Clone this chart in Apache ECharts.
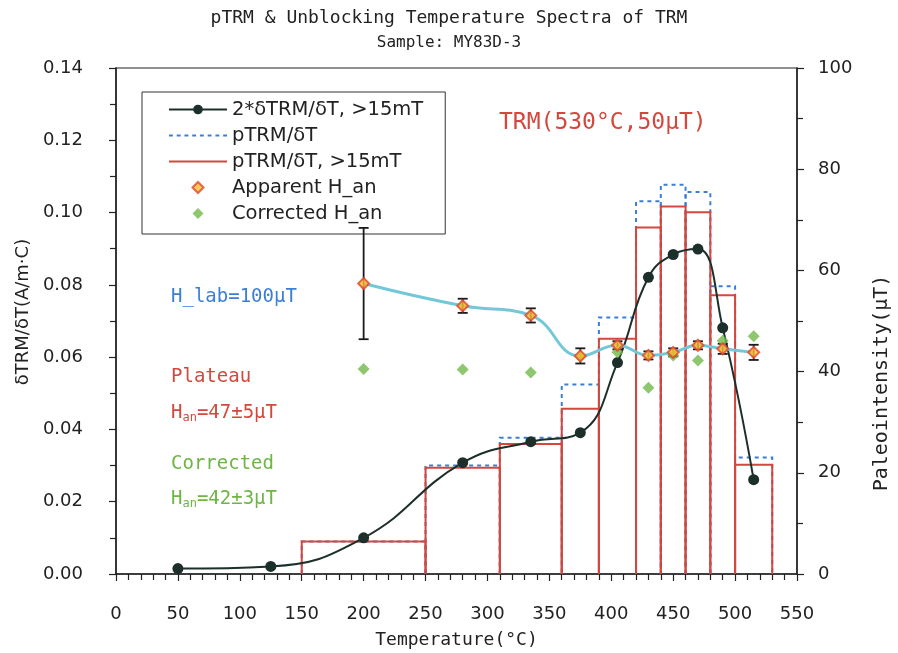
<!DOCTYPE html>
<html>
<head>
<meta charset="utf-8">
<script src="https://cdn.jsdelivr.net/npm/echarts@6/dist/echarts.min.js"></script>
<style>
  html, body { margin: 0; padding: 0; background: #fff; }
  #graph { width: 898px; height: 653px; }
</style>
</head>
<body>
<div id="graph"></div>
<script>
// step temperatures (midpoints) and 2*dTRM/dT, >15mT
const temps = [50, 125, 200, 280, 335, 375, 405, 430, 450, 470, 490, 515];
const dTRM2 = [0.0015, 0.0021, 0.0100, 0.0308, 0.0366, 0.0391, 0.0585, 0.0821, 0.0884, 0.0899, 0.0681, 0.0261];

// pTRM spectra bins
const binLow = [150, 250, 310, 360, 390, 420, 440, 460, 480, 500];
const binHigh = [250, 310, 360, 390, 420, 440, 460, 480, 500, 530];
const pTRM = [0.0090, 0.0300, 0.0377, 0.0524, 0.0710, 0.1031, 0.1077, 0.1057, 0.0796, 0.0322];
const pTRM15 = [0.0090, 0.0294, 0.0360, 0.0457, 0.0651, 0.0959, 0.1017, 0.1001, 0.0771, 0.0302];

// paleointensity estimates (uT)
const hTemps = [200, 280, 335, 375, 405, 430, 450, 470, 490, 515];
const apparent = [57.4, 53.0, 51.1, 43.1, 45.2, 43.2, 43.8, 45.2, 44.5, 43.8];
const apparentErr = [11.0, 1.4, 1.4, 1.5, 0.8, 0.8, 0.8, 0.8, 1.0, 1.5];
const corrected = [40.5, 40.4, 39.8, 43.0, 43.8, 36.8, 43.2, 42.2, 46.1, 47.0];

const xTicks = [0, 550, 50];      // min, max, interval
const leftTicks = [0, 0.14, 0.02];
const rightTicks = [0, 100, 20];

const mono = 'DejaVu Sans Mono';
const sans = 'DejaVu Sans';
const ink = '#222';
const RED = '#d4473d';
const BLUE = '#3a7fd5';
const GREEN = '#6db544';

const zip = (a, b) => a.map((v, i) => [v, b[i]]);
const bins = (vals) => binLow.map((lo, i) => [lo, binHigh[i], vals[i]]);

function stepBar(stroke, dash) {
  return function (params, api) {
    const p0 = api.coord([api.value(0), 0]);
    const p1 = api.coord([api.value(0), api.value(2)]);
    const p2 = api.coord([api.value(1), api.value(2)]);
    const p3 = api.coord([api.value(1), 0]);
    return {
      type: 'polyline',
      shape: { points: [p0, p1, p2, p3] },
      style: { stroke: stroke, fill: 'none', lineWidth: 2, lineDash: dash }
    };
  };
}

function errBar(params, api) {
  const x = api.value(0);
  const top = api.coord([x, api.value(2)]);
  const bot = api.coord([x, api.value(1)]);
  const hw = 5;
  const st = { stroke: '#1a1a1a', lineWidth: 1.8 };
  return {
    type: 'group',
    children: [
      { type: 'line', shape: { x1: top[0], y1: top[1], x2: bot[0], y2: bot[1] }, style: st },
      { type: 'line', shape: { x1: top[0] - hw, y1: top[1], x2: top[0] + hw, y2: top[1] }, style: st },
      { type: 'line', shape: { x1: bot[0] - hw, y1: bot[1], x2: bot[0] + hw, y2: bot[1] }, style: st }
    ]
  };
}

// legend icons (58 x 12 boxes)
let dashIcon = 'path://M0,0M58,2';
for (let x = 0; x < 58; x += 8) dashIcon += 'M' + x + ',0h4v2h-4z';
const solidIcon = 'path://M0,0H58V2H0Z';
const diamondIcon = 'path://M0,0M58,12M29,0.5L34.5,6L29,11.5L23.5,6Z';

const errData = hTemps.map((t, i) => [t, apparent[i] - apparentErr[i], apparent[i] + apparentErr[i]]);

const axisCommon = {
  axisLine: { show: true, lineStyle: { color: ink, width: 1.5 } },
  axisTick: { show: true, inside: false, length: 7, lineStyle: { color: ink, width: 1.2 } },
  splitLine: { show: false },
  nameTextStyle: { color: ink }
};

const chart = echarts.init(document.getElementById('graph'));
chart.setOption({
  animation: false,
  backgroundColor: '#fff',
  title: {
    text: 'pTRM & Unblocking Temperature Spectra of TRM',
    subtext: 'Sample: MY83D-3',
    left: 'center',
    top: 4,
    itemGap: 8,
    textStyle: { fontFamily: mono, fontSize: 18, fontWeight: 'normal', color: ink },
    subtextStyle: { fontFamily: mono, fontSize: 16, color: ink }
  },
  grid: {
    left: 116, right: 101, top: 68, bottom: 79,
    outerBoundsMode: 'none', containLabel: false,
    show: true, borderColor: ink, borderWidth: 1.2
  },
  legend: {
    orient: 'vertical',
    left: 142,
    top: 92,
    padding: [6, 22, 9, 26],
    itemWidth: 58,
    itemHeight: 12,
    itemGap: 3,
    borderColor: '#333',
    borderWidth: 1,
    backgroundColor: '#fff',
    textStyle: { fontFamily: sans, fontSize: 19.5, color: ink, lineHeight: 23 },
    data: [
      { name: '2*δTRM/δT, >15mT' },
      { name: 'pTRM/δT', icon: dashIcon },
      { name: 'pTRM/δT, >15mT', icon: solidIcon },
      { name: 'Apparent H_an', icon: diamondIcon },
      { name: 'Corrected H_an', icon: diamondIcon }
    ]
  },
  xAxis: Object.assign({}, axisCommon, {
    type: 'value',
    min: xTicks[0], max: xTicks[1], interval: xTicks[2],
    minorTick: { show: true, splitNumber: 5, length: 6, lineStyle: { color: ink, width: 1.2 } },
    axisLabel: { color: ink, fontSize: 18, fontFamily: sans, margin: 31 },
    name: 'Temperature(°C)',
    nameLocation: 'middle',
    nameGap: 57,
    nameTextStyle: { fontFamily: mono, fontSize: 18, color: ink }
  }),
  yAxis: [
    Object.assign({}, axisCommon, {
      type: 'value',
      position: 'left',
      min: leftTicks[0], max: leftTicks[1], interval: leftTicks[2],
      minorTick: { show: true, splitNumber: 2, length: 6, lineStyle: { color: ink, width: 1.2 } },
      axisLabel: { color: ink, fontSize: 18, fontFamily: sans, margin: 33, formatter: v => v.toFixed(2) },
      name: 'δTRM/δT(A/m·C)',
      nameLocation: 'middle',
      nameGap: 71,
      nameRotate: 90,
      nameTextStyle: { fontFamily: sans, fontSize: 18, color: ink, padding: [0, 0, 0, 18] }
    }),
    Object.assign({}, axisCommon, {
      type: 'value',
      position: 'right',
      min: rightTicks[0], max: rightTicks[1], interval: rightTicks[2],
      minorTick: { show: true, splitNumber: 2, length: 6, lineStyle: { color: ink, width: 1.2 } },
      axisLabel: { color: ink, fontSize: 18, fontFamily: sans, margin: 21 },
      name: 'Paleointensity(μT)',
      nameLocation: 'middle',
      nameGap: 75,
      nameRotate: 90,
      nameTextStyle: { fontFamily: mono, fontSize: 20, color: ink, padding: [0, 124, 0, 0] }
    })
  ],
  graphic: [
    { type: 'text', left: 499, top: 112, style: { text: 'TRM(530°C,50μT)', fill: RED, font: '23px "DejaVu Sans Mono"' } },
    { type: 'text', left: 171, top: 288, style: { text: 'H_lab=100μT', fill: BLUE, font: '19px "DejaVu Sans Mono"' } },
    { type: 'text', left: 171, top: 368, style: { text: 'Plateau', fill: RED, font: '19px "DejaVu Sans Mono"' } },
    { type: 'text', left: 171, top: 404, style: {
      text: '{n|H}{s|an}{n|=47±5μT}', fill: RED,
      rich: { n: { fontFamily: mono, fontSize: 19, fill: RED }, s: { fontFamily: mono, fontSize: 12, fill: RED, padding: [9, 0, 0, 0] } }
    } },
    { type: 'text', left: 171, top: 455, style: { text: 'Corrected', fill: GREEN, font: '19px "DejaVu Sans Mono"' } },
    { type: 'text', left: 171, top: 490, style: {
      text: '{n|H}{s|an}{n|=42±3μT}', fill: GREEN,
      rich: { n: { fontFamily: mono, fontSize: 19, fill: GREEN }, s: { fontFamily: mono, fontSize: 12, fill: GREEN, padding: [9, 0, 0, 0] } }
    } }
  ],
  series: [
    {
      name: 'pTRM/δT',
      type: 'custom',
      renderItem: stepBar(BLUE, [4, 4]),
      itemStyle: { color: BLUE },
      encode: { x: [0, 1], y: 2 },
      data: bins(pTRM),
      z: 2
    },
    {
      name: 'pTRM/δT, >15mT',
      type: 'custom',
      renderItem: stepBar(RED, null),
      itemStyle: { color: RED },
      encode: { x: [0, 1], y: 2 },
      data: bins(pTRM15),
      z: 3
    },
    {
      name: '2*δTRM/δT, >15mT',
      type: 'line',
      smooth: 0.45,
      symbol: 'circle',
      symbolSize: 11,
      lineStyle: { color: '#1c2f2b', width: 2 },
      itemStyle: { color: '#1c2f2b' },
      data: zip(temps, dTRM2),
      z: 4
    },
    {
      name: 'fit',
      type: 'line',
      yAxisIndex: 1,
      smooth: 0.45,
      symbol: 'none',
      lineStyle: { color: '#72c8d9', width: 3 },
      itemStyle: { color: '#72c8d9' },
      data: zip(hTemps, apparent),
      z: 5
    },
    {
      name: 'err',
      type: 'custom',
      yAxisIndex: 1,
      renderItem: errBar,
      encode: { x: 0, y: [1, 2] },
      data: errData,
      z: 6
    },
    {
      name: 'Corrected H_an',
      type: 'scatter',
      yAxisIndex: 1,
      symbol: 'diamond',
      symbolSize: 12,
      itemStyle: { color: '#72b94c', borderColor: '#72b94c', borderWidth: 0 },
      data: zip(hTemps, corrected),
      z: 7
    },
    {
      name: 'Apparent H_an',
      type: 'scatter',
      yAxisIndex: 1,
      symbol: 'diamond',
      symbolSize: 11,
      itemStyle: { color: '#ffbe2e', borderColor: '#e0452c', borderWidth: 2 },
      data: zip(hTemps, apparent),
      z: 8
    }
  ]
});
</script>
</body>
</html>
